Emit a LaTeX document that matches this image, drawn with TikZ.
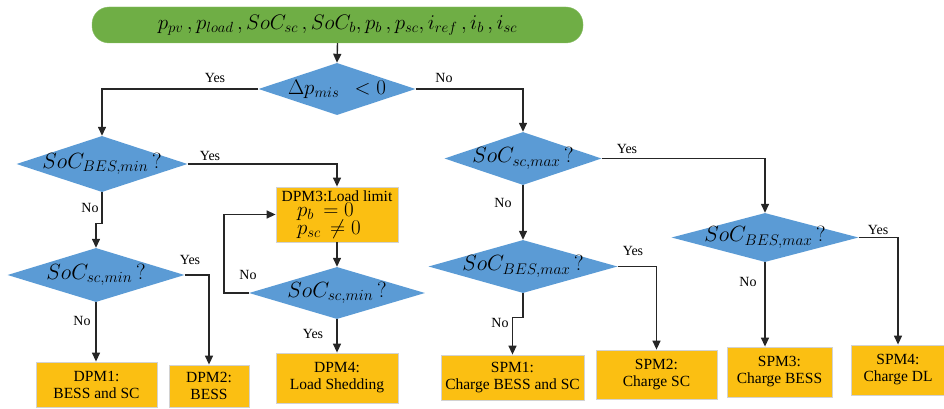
\documentclass[tikz,border=0pt]{standalone}
\usepackage{fix-cm}
\usepackage{fontspec}
\setmainfont{Liberation Serif}
\usetikzlibrary{shapes.geometric,arrows.meta}
\definecolor{dblue}{HTML}{5B9BD5}
\definecolor{boxor}{HTML}{FBBF12}
\definecolor{bgreen}{HTML}{6FAE45}
\begin{document}
\begin{tikzpicture}[x=1pt,y=-1pt,
  line/.style={draw=black!85, line width=1.4pt},
  arr/.style={line, -{Triangle[length=9pt,width=8pt]}},
  dec/.style={diamond, fill=dblue, inner sep=0pt, aspect=1, font=\fontsize{22}{24}\selectfont},
  pm/.style={rectangle, fill=boxor, draw=gray!35, line width=0.8pt, inner sep=1pt, align=center, font=\rmfamily\fontsize{15.5}{17}\selectfont},
  lab/.style={font=\rmfamily\fontsize{14}{16}\selectfont, inner sep=0pt}]
\useasboundingbox (0,0) rectangle (944,409);

% banner
\node[rectangle, rounded corners=17pt, fill=bgreen, draw=bgreen!80!white, minimum width=491pt, minimum height=36pt, inner sep=0pt, font=\fontsize{21}{23}\selectfont] (top) at (337.5,25)
  {$p_{pv}\,, p_{load}\,, SoC_{sc}\,, SoC_b, p_b\,, p_{sc}, i_{ref}\,, i_b\,, i_{sc}$};

% decisions
\node[dec, minimum width=157pt, minimum height=52pt, font=\fontsize{21}{23}\selectfont] (d1) at (337,89) {\makebox[0pt]{$\Delta p_{mis}\;\,<0$}};
\node[dec, minimum width=171pt, minimum height=56pt] (d2) at (102,164) {\makebox[0pt]{$SoC_{BES,min}\,?$}};
\node[dec, minimum width=157pt, minimum height=53pt] (d3) at (523,158.5) {\makebox[0pt]{$SoC_{sc,max}\,?$}};
\node[dec, minimum width=177pt, minimum height=54pt] (d4) at (96,275) {\makebox[0pt]{$SoC_{sc,min}\,?$}};
\node[dec, minimum width=176pt, minimum height=52pt] (d5) at (337,293) {\makebox[0pt]{$SoC_{sc,min}\,?$}};
\node[dec, minimum width=187pt, minimum height=49pt] (d6) at (765,237.5) {\makebox[0pt]{$SoC_{BES,max}\,?$}};
\node[dec, minimum width=189pt, minimum height=53pt] (d7) at (523,266.5) {\makebox[0pt]{$SoC_{BES,max}\,?$}};

% process boxes
\node[pm, minimum width=122pt, minimum height=55pt, font=\rmfamily\fontsize{15.5}{15}\selectfont] (dpm3) at (337,214.5)
  {\lineskiplimit=-30pt\relax DPM3:Load limit\\[0pt]\makebox[80pt][l]{\fontsize{21}{15}\selectfont$p_b\,=0$}\\[-1pt]\makebox[80pt][l]{\fontsize{21}{15}\selectfont$p_{sc}\,\neq 0$}};
\node[pm, minimum width=122pt, minimum height=50pt] (dpm4) at (337,378) {DPM4:\\Load Shedding};
\node[pm, minimum width=121pt, minimum height=45pt] (dpm1) at (96.5,384.5) {DPM1:\\BESS and SC};
\node[pm, minimum width=80pt, minimum height=42pt] (dpm2) at (209,386) {DPM2:\\BESS};
\node[pm, minimum width=143pt, minimum height=45pt] (spm1) at (512.5,377.5) {SPM1:\\Charge BESS and SC};
\node[pm, minimum width=121pt, minimum height=49pt] (spm2) at (656.5,374.5) {SPM2:\\Charge SC};
\node[pm, minimum width=105pt, minimum height=50pt] (spm3) at (779.5,372) {SPM3:\\Charge BESS};
\node[pm, minimum width=93pt, minimum height=50pt] (spm4) at (898,370) {SPM4:\\Charge DL};

% connectors
\draw[arr] (top.south) -- (d1.north);
\draw[arr] (d1.west) -| (d2.north);
\draw[arr] (d1.east) -| (d3.north);
\draw[arr] (d2.east) -| (dpm3.north);
\draw[arr] (d2.south) -- ++(0,31) -| (d4.north);
\draw[arr] (d4.east) -| (dpm2.north);
\draw[arr] (d4.south) -- (d4.south |- dpm1.north);
\draw[arr] (dpm3.south) -- (d5.north);
\draw[arr] (d5.west) -- ++(-25,0) |- (dpm3.west);
\draw[arr] (d5.south) -- (dpm4.north);
\draw[arr] (d3.east) -| (d6.north);
\draw[arr] (d3.south) -- (d7.north);
\draw[arr] (d6.east) -| (spm4.north);
\draw[arr] (d6.south) -- (d6.south |- spm3.north);
\draw[arr] (d7.east) -| (spm2.north);
\draw[arr] (d7.south) -- ++(0,24) -| (spm1.north);

% labels
\node[lab] (l1) at (215,78) {Yes};
\node[lab] (l2) at (444,78) {No};
\node[lab] (l3) at (210,156) {Yes};
\node[lab] (l4) at (90,208) {No};
\node[lab] (l5) at (190,260) {Yes};
\node[lab] (l6) at (82,321) {No};
\node[lab] (l7) at (248,275) {No};
\node[lab] (l8) at (313,334) {Yes};
\node[lab] (l9) at (627,149) {Yes};
\node[lab] (l10) at (503,203) {No};
\node[lab] (l11) at (878,230) {Yes};
\node[lab] (l12) at (748,282) {No};
\node[lab] (l13) at (633,251) {Yes};
\node[lab] (l14) at (500,323) {No};
\end{tikzpicture}
\end{document}
